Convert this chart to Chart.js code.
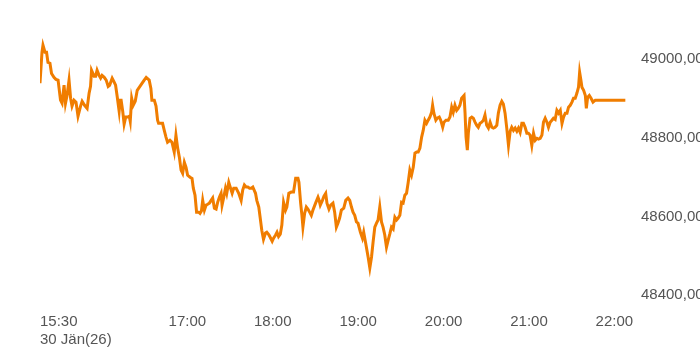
<!DOCTYPE html>
<html>
<head>
<meta charset="utf-8">
<script src="https://cdn.jsdelivr.net/npm/chart.js@4/dist/chart.umd.min.js"></script>
<style>
  html, body { margin: 0; padding: 0; background: #fff; }
  #wrap { width: 700px; height: 350px; position: relative; }
</style>
</head>
<body>
<div id="wrap"><canvas id="c"></canvas></div>
<script>
// time of each quote, minutes after midnight
const mins = [
916.5,917.9,918.6,920.0,921.1,922.1,923.5,924.6,926.3,927.7,929.2,930.9,932.0,933.4,934.4,935.5,936.9,938.0,939.0,940.4,
941.8,943.2,945.0,946.1,947.8,949.6,951.0,952.0,952.7,954.5,955.6,956.6,958.0,959.1,960.1,961.6,963.0,964.4,965.4,967.2,
968.6,969.6,970.7,972.1,972.8,973.5,974.6,975.6,976.7,978.1,979.2,979.9,980.9,982.0,983.4,984.8,987.3,989.7,991.1,993.2,
994.4,995.1,996.8,998.0,999.1,999.8,1001.5,1002.6,1003.8,1005.0,1006.1,1007.8,1009.2,1010.8,1012.0,1013.2,1014.4,1015.6,1016.7,1017.9,
1019.1,1020.2,1021.9,1023.3,1024.2,1025.4,1026.5,1028.0,1028.9,1029.9,1030.8,1032.0,1033.2,1034.3,1035.5,1036.7,1037.8,1039.0,1040.2,1041.3,
1042.5,1043.7,1044.4,1045.6,1046.8,1047.7,1049.1,1050.1,1051.5,1052.6,1054.3,1056.1,1057.8,1058.9,1060.1,1061.3,1062.5,1063.7,1064.9,1066.0,
1067.9,1068.8,1070.2,1071.2,1072.3,1073.5,1074.9,1075.8,1077.3,1078.2,1079.6,1080.6,1082.0,1083.0,1084.1,1085.3,1086.4,1087.6,1089.0,1089.9,
1091.3,1093.0,1094.6,1096.1,1097.7,1098.4,1099.6,1100.5,1101.2,1102.4,1103.6,1104.7,1105.9,1107.1,1108.2,1110.1,1111.8,1112.6,1113.4,1114.9,
1116.0,1117.2,1118.1,1119.5,1120.7,1122.3,1123.5,1124.7,1125.8,1127.0,1128.2,1129.9,1131.3,1132.9,1134.1,1135.3,1136.4,1137.6,1138.8,1139.9,
1141.6,1143.0,1143.9,1145.3,1147.0,1148.2,1149.4,1150.5,1151.7,1152.9,1154.0,1155.2,1156.4,1157.5,1158.7,1159.9,1161.1,1162.2,1163.4,1164.6,
1165.8,1167.0,1168.1,1169.3,1170.5,1171.6,1172.8,1174.0,1175.1,1176.3,1177.5,1178.7,1179.9,1181.1,1182.2,1183.4,1184.6,1185.7,1186.9,1188.1,
1189.2,1190.4,1191.6,1192.3,1193.2,1194.6,1195.6,1197.0,1198.0,1199.4,1200.3,1201.7,1203.3,1204.5,1205.7,1206.8,1208.0,1209.2,1210.3,1211.5,
1212.7,1214.4,1215.1,1215.8,1216.7,1217.4,1218.6,1219.8,1220.9,1222.1,1223.3,1224.4,1225.6,1226.8,1228.0,1229.1,1230.3,1231.5,1232.7,1233.9,
1235.0,1236.2,1237.4,1238.5,1239.7,1240.9,1242.0,1243.2,1244.4,1245.6,1246.8,1247.9,1249.1,1250.3,1251.5,1252.6,1253.8,1255.0,1256.1,1257.3,
1258.5,1259.6,1260.8,1262.0,1263.2,1264.4,1265.6,1266.7,1267.9,1269.1,1270.2,1271.4,1272.6,1273.7,1274.9,1276.1,1277.2,1278.4,1279.6,1280.8,
1282.0,1283.2,1284.3,1285.5,1286.7,1287.8,1289.0,1290.2,1291.3,1292.5,1293.7,1294.8,1295.6,1296.5,1297.2,1298.4,1299.6,1300.3,1301.2,1302.4,
1303.6,1305.0,1306.6,1327.7
];
// index level at each time
const vals = [
48939,49018,49036,49018,49018,48992,48990,48964,48954,48949,48947,48896,48888,48934,48888,48908,48947,48901,48881,48896,
48891,48855,48881,48893,48883,48875,48914,48931,48972,48957,48957,48972,48959,48952,48959,48954,48947,48931,48934,48952,
48942,48934,48906,48868,48896,48896,48868,48835,48853,48853,48855,48842,48901,48883,48893,48921,48934,48947,48954,48947,
48926,48896,48896,48881,48845,48837,48837,48837,48819,48802,48789,48794,48789,48764,48807,48774,48751,48718,48710,48738,
48725,48705,48700,48697,48672,48654,48611,48611,48608,48614,48641,48616,48629,48631,48634,48641,48647,48621,48619,48636,
48649,48659,48629,48649,48672,48659,48687,48675,48659,48672,48672,48659,48641,48667,48680,48675,48675,48672,48672,48675,
48659,48641,48624,48596,48565,48542,48558,48560,48553,48547,48537,48545,48553,48560,48549,48555,48578,48636,48616,48624,
48659,48662,48662,48697,48697,48687,48634,48603,48573,48608,48624,48619,48611,48603,48616,48634,48649,48641,48629,48641,
48652,48659,48634,48619,48629,48634,48611,48573,48583,48596,48616,48621,48641,48647,48641,48624,48611,48603,48586,48583,
48560,48545,48560,48532,48497,48469,48497,48535,48573,48583,48591,48624,48586,48573,48553,48522,48540,48555,48573,48568,
48598,48591,48596,48603,48636,48634,48654,48659,48685,48718,48705,48725,48761,48764,48764,48774,48802,48819,48845,48837,
48845,48853,48865,48883,48863,48845,48850,48853,48845,48827,48840,48845,48845,48853,48878,48865,48883,48870,48875,48883,
48901,48908,48863,48802,48769,48812,48850,48853,48850,48840,48832,48827,48837,48840,48845,48858,48832,48825,48840,48827,
48825,48827,48832,48863,48883,48893,48886,48863,48825,48781,48817,48827,48819,48825,48817,48825,48814,48837,48837,48827,
48812,48812,48807,48781,48812,48794,48799,48797,48799,48807,48840,48850,48840,48827,48840,48845,48850,48847,48870,48863,
48870,48837,48853,48863,48863,48878,48883,48891,48901,48901,48914,48929,48967,48947,48929,48921,48908,48875,48903,48908,
48901,48891,48896,48896
];
const tickMins = [916.5, 1020, 1080, 1140, 1200, 1260, 1320];
const tickLabels = [["15:30", "30 Jän(26)"], "17:00", "18:00", "19:00", "20:00", "21:00", "22:00"];
const yTicks = [48400, 48600, 48800, 49000];

const firstLabelLeft = {
  id: 'firstLabelLeft',
  beforeDraw(chart) {
    const items = chart.scales.x.getLabelItems();
    if (items && items.length) items[0].options.textAlign = 'left';
  }
};

new Chart(document.getElementById('c'), {
  type: 'line',
  data: {
    datasets: [{
      data: mins.map((m, i) => ({ x: m, y: vals[i] })),
      borderColor: '#f07d00',
      borderWidth: 3,
      pointRadius: 0,
      tension: 0,
      fill: false
    }]
  },
  options: {
    responsive: true,
    maintainAspectRatio: false,
    animation: false,
    layout: { padding: { left: 40, top: 20, right: 0, bottom: 0 } },
    plugins: { legend: { display: false }, tooltip: { enabled: false } },
    scales: {
      x: {
        type: 'linear',
        min: mins[0],
        max: 1338,
        grid: { display: false, drawTicks: false },
        border: { display: false },
        afterBuildTicks: s => { s.ticks = tickMins.map(v => ({ value: v })); },
        afterFit: s => { s.height = 40; },
        ticks: {
          autoSkip: false, maxRotation: 0, padding: 3,
          color: '#555',
          font: { family: '"Liberation Sans", Arial, sans-serif', size: 15 },
          callback: (v, i) => tickLabels[i]
        }
      },
      y: {
        position: 'right',
        min: 48362,
        max: 49100,
        grid: { display: false, drawTicks: false },
        border: { display: false },
        afterBuildTicks: s => { s.ticks = yTicks.map(v => ({ value: v })); },
        afterFit: s => { s.width = 60; },
        ticks: {
          padding: 1,
          color: '#555',
          font: { family: '"Liberation Sans", Arial, sans-serif', size: 15 },
          callback: v => v.toFixed(2).replace('.', ',')
        }
      }
    }
  },
  plugins: [firstLabelLeft]
});
</script>
</body>
</html>
